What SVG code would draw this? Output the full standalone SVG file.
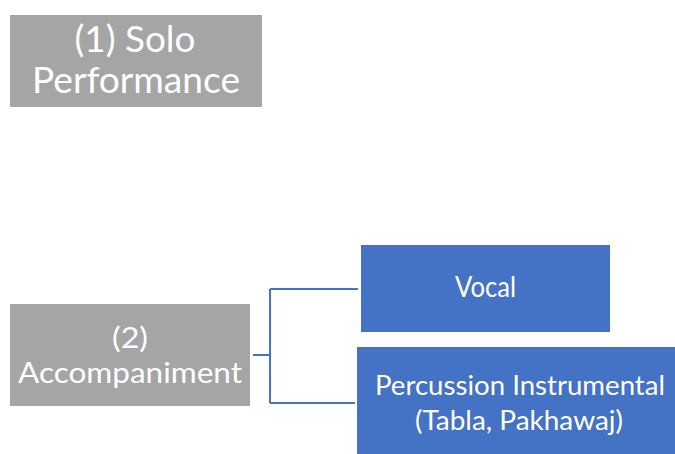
<svg xmlns="http://www.w3.org/2000/svg" width="675" height="454" viewBox="0 0 675 454">
<style>
.g{fill:#A5A5A5;stroke:#ffffff;stroke-width:1}
.b{fill:#4472C4;stroke:#ffffff;stroke-width:1}
.t{fill:#ffffff;font-family:Lato,"Open Sans",sans-serif;text-anchor:middle}
.c{fill:none;stroke:#4472C4;stroke-width:2}
</style>
<rect width="675" height="454" fill="#ffffff"/>
<g id="solo">
<rect class="g" x="9.5" y="14.5" width="253" height="93"/>
<text class="t" x="135" y="52" font-size="36" textLength="121" lengthAdjust="spacingAndGlyphs">(1) Solo</text>
<text class="t" x="136" y="93" font-size="36" textLength="208" lengthAdjust="spacingAndGlyphs">Performance</text>
</g>
<g id="accompaniment">
<rect class="g" x="9.5" y="303.5" width="241" height="103"/>
<text class="t" x="130" y="348" font-size="29" textLength="36" lengthAdjust="spacingAndGlyphs">(2)</text>
<text class="t" x="130" y="383" font-size="29" textLength="224" lengthAdjust="spacingAndGlyphs">Accompaniment</text>
</g>
<g id="vocal">
<rect class="b" x="360.5" y="244.5" width="250" height="88"/>
<text class="t" x="485.5" y="297" font-size="28" textLength="61" lengthAdjust="spacingAndGlyphs">Vocal</text>
</g>
<g id="percussion">
<rect class="b" x="356.5" y="346.5" width="320" height="108"/>
<text class="t" x="520" y="395" font-size="26" textLength="290" lengthAdjust="spacingAndGlyphs">Percussion Instrumental</text>
<text class="t" x="519" y="430" font-size="26" textLength="208" lengthAdjust="spacingAndGlyphs">(Tabla, Pakhawaj)</text>
</g>
<g id="connectors">
<path class="c" d="M253 355 H270 M270 289 V403 M270 289 H358 M270 403 H355"/>
</g>
</svg>
